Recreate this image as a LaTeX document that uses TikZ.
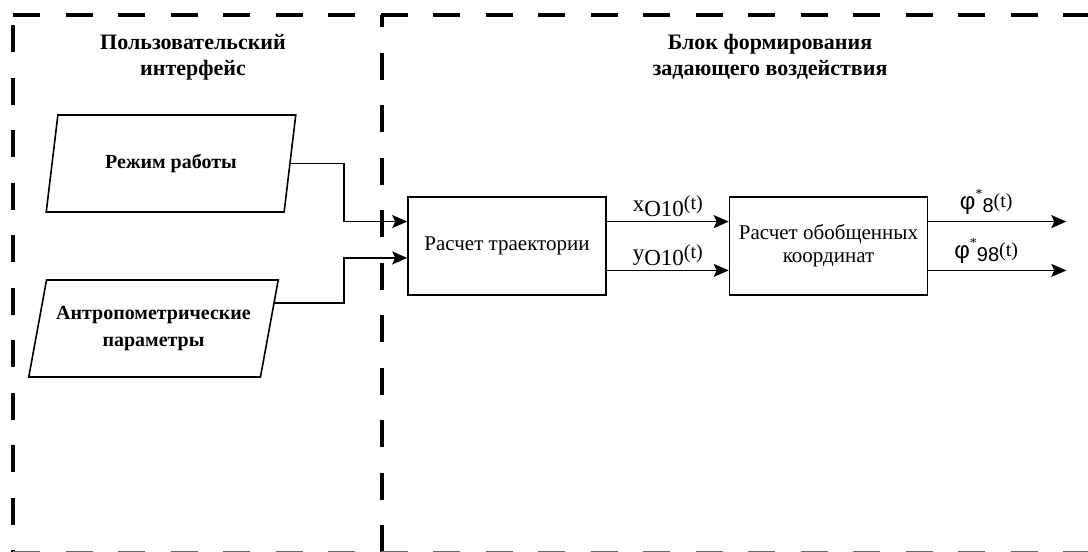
\documentclass[tikz,border=0pt]{standalone}
\usepackage{fontspec}
\setmainfont{Liberation Serif}
\newfontfamily\grfont{Liberation Sans}
\usetikzlibrary{shapes.geometric, arrows.meta, positioning, calc}
\newcommand{\xylab}[1]{#1\raisebox{-5pt}{O10}\raisebox{2pt}{\fontsize{20}{20}\selectfont(t)}}
\newcommand{\philab}[1]{{\grfont\fontsize{24}{24}\selectfont φ}\raisebox{11pt}{\fontsize{14}{14}\selectfont *}\raisebox{-3pt}{\grfont\fontsize{20}{20}\selectfont #1}\raisebox{2pt}{\fontsize{20}{20}\selectfont(t)}}

\begin{document}
\begin{tikzpicture}[x=1pt, y=-1pt,
  frame/.style={line width=3.2pt, dash pattern=on 27pt off 25.5pt},
  para/.style={trapezium, draw, line width=1.6pt, trapezium left angle=70,
    trapezium right angle=110, trapezium stretches=true, minimum width=250pt,
    minimum height=97pt, inner sep=0pt, font=\fontsize{20}{27}\selectfont\bfseries, align=center},
  block/.style={rectangle, draw, line width=1.6pt, minimum width=198pt,
    minimum height=98pt, font=\fontsize{21}{23}\selectfont, align=center},
  ttl/.style={font=\fontsize{22}{26}\selectfont\bfseries, align=center},
  sig/.style={font=\fontsize{23}{23}\selectfont, inner sep=0pt},
  arr/.style={line width=1.6pt, -{Stealth[length=15pt,width=13pt,inset=3pt]}}]
  \useasboundingbox (0,0) rectangle (1088,552);

  \draw[frame] (13,15) -- (1088,15);
  \draw[frame] (13,25) -- (13,552);
  \draw[frame, dash phase=15pt] (382,15) -- (382,560);
  \draw[frame, black!60] (13,553) -- (1088,553);

  \node[ttl] (ui) at (193,57) {Пользовательский\\интерфейс};
  \node[ttl] (gen) at (770,57) {Блок формирования\\задающего воздействия};

  \node[para] (mode) at (171,163.5) {Режим работы};
  \node[para] (anthro) at (153.5,328.5) {Антропометрические\\параметры};

  \node[block] (traj) at (507,246) {Расчет траектории};
  \node[block] (coord) at (828.5,246) {Расчет обобщенных\\координат};

  \coordinate (in1) at ($(traj.north west)!0.255!(traj.south west)$);
  \coordinate (in2) at ($(traj.north west)!0.62!(traj.south west)$);
  \coordinate (m1) at ($(traj.north east)!0.255!(traj.south east)$);
  \coordinate (m2) at ($(traj.north east)!0.745!(traj.south east)$);
  \coordinate (o1) at ($(coord.north east)!0.255!(coord.south east)$);
  \coordinate (o2) at ($(coord.north east)!0.745!(coord.south east)$);

  \draw[arr] (mode.east) -| ([xshift=-63pt]in1) -- (in1);
  \draw[arr] ($(anthro.top right corner)!0.24!(anthro.bottom right corner)$)
    -| ([xshift=-63pt]in2) -- (in2);
  \draw[arr] (m1) -- (m1 -| coord.west) node[sig, midway, above=4pt] {\xylab{x}};
  \draw[arr] (m2) -- (m2 -| coord.west) node[sig, midway, above=4pt] {\xylab{y}};
  \draw[arr] (o1) -- ++(138,0) node[sig, pos=0.42, above=6pt] {\philab{8}};
  \draw[arr] (o2) -- ++(138,0) node[sig, pos=0.42, above=6pt] {\philab{98}};
\end{tikzpicture}
\end{document}
